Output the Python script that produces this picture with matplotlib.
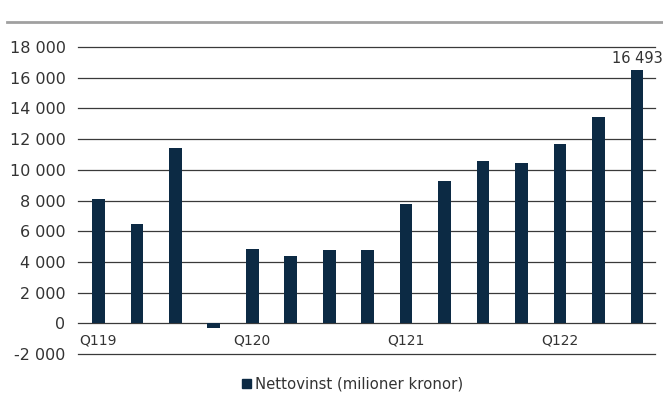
import matplotlib
matplotlib.use("Agg")
import matplotlib.pyplot as plt
from matplotlib.lines import Line2D
from matplotlib.patches import Patch

plt.rcParams['font.family'] = ['DejaVu Sans']

quarters = ["Q119", "Q219", "Q319", "Q419", "Q120", "Q220", "Q320", "Q420",
            "Q121", "Q221", "Q321", "Q421", "Q122", "Q222", "Q322"]
values = [8100, 6500, 11450, -300, 4850, 4400, 4750, 4750,
          7750, 9250, 10550, 10420, 11700, 13420, 16493]
shown_labels = ["Q119", "Q120", "Q121", "Q122"]
yticks = [-2000, 0, 2000, 4000, 6000, 8000, 10000, 12000, 14000, 16000, 18000]
series_name = "Nettovinst (milioner kronor)"

bar_color = "#0c2a44"
text_color = "#333333"

fig = plt.figure(figsize=(6.63, 3.94), dpi=100)
ax = fig.add_axes([78/663, 1-354/394, (655-78)/663, (354-47)/394])

x = list(range(len(values)))
ax.bar(x, values, width=0.33, color=bar_color, zorder=3)

ax.set_ylim(-2000, 18000)
ax.set_xlim(-0.53, len(values) - 0.53)
ax.set_yticks(yticks)
ax.set_yticklabels([f"{v:,}".replace(",", " ") for v in yticks],
                   fontsize=11.5, color=text_color)
ax.tick_params(axis='y', length=0, pad=9)
ax.set_xticks([])
for v in yticks:
    ax.axhline(v, color="#3a3a3a", lw=0.9, zorder=1, clip_on=False)
for s in ax.spines.values():
    s.set_visible(False)

for i, q in enumerate(quarters):
    if q in shown_labels:
        ax.text(i, -1100, q, ha='center', va='center', fontsize=10, color=text_color)

ax.annotate(f"{values[-1]:,}".replace(",", " "), (x[-1], values[-1]),
            xytext=(0, 3), textcoords='offset points', ha='center', va='bottom',
            fontsize=10.5, color=text_color)

# top rule
fig.add_artist(Line2D([7/663, 1.0], [1-22/394, 1-22/394], color="#a0a0a0", lw=2,
                      transform=fig.transFigure))

fig.legend(handles=[Patch(color=bar_color, label=series_name)], loc='center',
           bbox_to_anchor=(0.532, 1-384/394), frameon=False, fontsize=10.7,
           handlelength=0.6, handleheight=0.6, handletextpad=0.3,
           labelcolor=text_color)

fig.savefig("out.png", dpi=100)
